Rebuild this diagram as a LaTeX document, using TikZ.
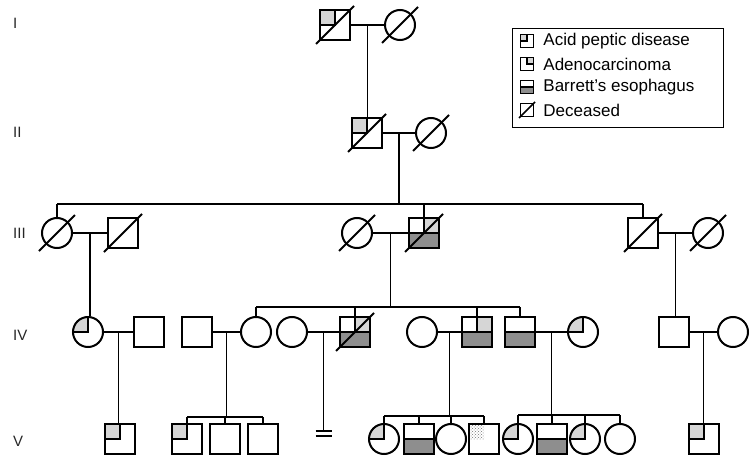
\documentclass[tikz,border=0pt]{standalone}
\usepackage{fontspec}
\setmainfont{Liberation Sans}
\usetikzlibrary{calc,patterns,positioning}

\definecolor{Cltgray}{HTML}{D6D6D6}
\definecolor{Cdkgray}{HTML}{8E8E8E}

\tikzset{
	male/.style={draw,rectangle,minimum size=30pt,inner sep=0pt,line width=2pt},
	female/.style={draw,circle,minimum size=30pt,inner sep=0pt,line width=2pt},
	apd/.style={path picture={
		\fill[Cltgray] (path picture bounding box.center) rectangle (path picture bounding box.north west);
		\draw[line width=2pt] (path picture bounding box.north) |- (path picture bounding box.west);}},
	adc/.style={path picture={
		\fill[Cltgray] (path picture bounding box.center) rectangle (path picture bounding box.north east);
		\draw[line width=2pt] (path picture bounding box.north) |- (path picture bounding box.east);}},
	be/.style={path picture={
		\fill[Cdkgray] (path picture bounding box.west) rectangle (path picture bounding box.south east);
		\draw[line width=2pt] (path picture bounding box.west) -- (path picture bounding box.east);}},
	adcbe/.style={path picture={
		\fill[Cltgray] (path picture bounding box.center) rectangle (path picture bounding box.north east);
		\fill[Cdkgray] (path picture bounding box.west) rectangle (path picture bounding box.south east);
		\draw[line width=2pt] (path picture bounding box.north) -- (path picture bounding box.center);
		\draw[line width=2pt] (path picture bounding box.west) -- (path picture bounding box.east);}},
	apddot/.style={path picture={
		\fill[pattern=crosshatch dots,pattern color=black!55] (path picture bounding box.center) rectangle (path picture bounding box.north west);}},
	keyicon/.style={male,minimum size=13pt,line width=1.5pt},
	link/.style={line width=1.6pt},
	slash/.style={line width=1.9pt},
	gen/.style={anchor=west,inner sep=0pt,font=\fontsize{15}{18}\selectfont,text=black!85},
	keytext/.style={anchor=west,inner sep=0pt,font=\fontsize{17}{20}\selectfont},
}

\begin{document}
\begin{tikzpicture}[x=1pt,y=-1pt]
	\useasboundingbox (0,0) rectangle (753,460);
	\foreach \g/\y in {I/23,II/132,III/233,IV/335,V/441}
		\node[gen] (g\g) at (13,\y) {\g};

	\node[male,apd] (I1) at (335,25) {};
	\node[female] (I2) at (400,25) {};
	\node[male,apd] (II1) at (367,133) {};
	\node[female] (II2) at (431,133) {};
	\node[female] (III1) at (57,233) {};
	\node[male] (III2) at (123,233) {};
	\node[female] (III3) at (357,233) {};
	\node[male,adcbe] (III4) at (424,233) {};
	\node[male] (III5) at (643,233) {};
	\node[female] (III6) at (708,233) {};
	\node[female,apd] (IV1) at (88,332) {};
	\node[male] (IV2) at (149,332) {};
	\node[male] (IV3) at (197,332) {};
	\node[female] (IV4) at (256,332) {};
	\node[female] (IV5) at (292,332) {};
	\node[male,adcbe] (IV6) at (355,332) {};
	\node[female] (IV7) at (422,332) {};
	\node[male,adcbe] (IV8) at (477,332) {};
	\node[male,be] (IV9) at (520,332) {};
	\node[female,apd] (IV10) at (583,332) {};
	\node[male] (IV11) at (674,332) {};
	\node[female] (IV12) at (733,332) {};
	\node[male,apd] (V1) at (120,439) {};
	\node[male,apd] (V2) at (187,439) {};
	\node[male] (V3) at (225,439) {};
	\node[male] (V4) at (263,439) {};
	\node[female,apd] (V5) at (384,439) {};
	\node[male,be] (V6) at (419,439) {};
	\node[female] (V7) at (451,439) {};
	\node[male,apddot,line width=1.4pt] (V8) at (484,439) {};
	\node[female,apd] (V9) at (518,439) {};
	\node[male,be] (V10) at (552,439) {};
	\node[female,apd] (V11) at (585,439) {};
	\node[female] (V12) at (620,439) {};
	\node[male,apd] (V13) at (704,439) {};

	\foreach \n/\e in {I1/19pt,II1/19pt,III2/19pt,III4/19pt,III5/19pt,IV6/19pt,
			I2/18pt,II2/18pt,III1/18pt,III3/18pt,III6/18pt}
		\draw[slash] ([shift={(-\e,-\e)}]\n.center) -- ([shift={(\e,\e)}]\n.center);

	\foreach \a/\b/\m in {I1/I2/mI,II1/II2/mII,III1/III2/mIIIa,III3/III4/mIIIb,III5/III6/mIIIc,
			IV1/IV2/mIVa,IV3/IV4/mIVb,IV5/IV6/mIVc,IV7/IV8/mIVd,IV9/IV10/mIVe,IV11/IV12/mIVf}{
		\draw[link] (\a) -- (\b);
		\coordinate (\m) at ($(\a)!0.5!(\b)$);}

	\draw[link] (mI) -- (mI |- II1.north);
	\draw[link] (mIIIa) -- (mIIIa |- IV1.north);
	\draw[link] (mIIIc) -- (mIIIc |- IV11.north);
	\draw[link] (mIVa) -- (mIVa |- V1.north);
	\draw[link] (mIVf) -- (mIVf |- V13.north);

	\coordinate (sII) at (0,204);
	\draw[link] (mII) -- (mII |- sII);
	\draw[link] (III1 |- sII) -- (III5 |- sII);
	\foreach \n in {III1,III4,III5}
		\draw[link] (\n |- sII) -- (\n.north);

	\coordinate (sIII) at (0,307);
	\draw[link] (mIIIb) -- (mIIIb |- sIII);
	\draw[link] (IV4 |- sIII) -- (IV9 |- sIII);
	\foreach \n in {IV4,IV6,IV8,IV9}
		\draw[link] (\n |- sIII) -- (\n.north);

	\coordinate (sIVb) at (0,417);
	\draw[link] (mIVb) -- (mIVb |- sIVb);
	\draw[link] (V2 |- sIVb) -- (V4 |- sIVb);
	\foreach \n in {V2,V3,V4}
		\draw[link] (\n |- sIVb) -- (\n.north);

	\coordinate (sIVd) at (0,416);
	\draw[link] (mIVd) -- (mIVd |- sIVd);
	\draw[link] (V5 |- sIVd) -- (V8 |- sIVd);
	\foreach \n in {V5,V6,V7,V8}
		\draw[link] (\n |- sIVd) -- (\n.north);

	\coordinate (sIVe) at (0,415);
	\draw[link] (mIVe) -- (mIVe |- sIVe);
	\draw[link] (V9 |- sIVe) -- (V12 |- sIVe);
	\foreach \n in {V9,V10,V11,V12}
		\draw[link] (\n |- sIVe) -- (\n.north);

	\coordinate (nc) at (0,431);
	\coordinate (nb) at (mIVc |- nc);
	\draw[link] (mIVc) -- (nb);
	\draw[link] ([xshift=-8pt]nb) -- ([xshift=8pt]nb);
	\draw[link] ([xshift=-8pt,yshift=-5pt]nb) -- ([xshift=8pt,yshift=-5pt]nb);

	\node[draw,line width=1pt,minimum width=211pt,minimum height=99pt,anchor=north west,inner sep=0pt] (key) at (512,28) {};
	\node[keyicon,apd] (k1) at (527,41) {};
	\node[keyicon,adc] (k2) at (527,64) {};
	\node[keyicon,be] (k3) at (527,87) {};
	\node[keyicon] (k4) at (527,110) {};
	\draw[slash,line width=1.5pt] ([shift={(-8pt,-8pt)}]k4.center) -- ([shift={(8pt,8pt)}]k4.center);
	\node[keytext,right=9pt of k1] (t1) {Acid peptic disease};
	\node[keytext,right=9pt of k2] (t2) {Adenocarcinoma};
	\node[keytext,right=9pt of k3] (t3) {Barrett’s esophagus};
	\node[keytext,right=9pt of k4] (t4) {Deceased};
\end{tikzpicture}
\end{document}
